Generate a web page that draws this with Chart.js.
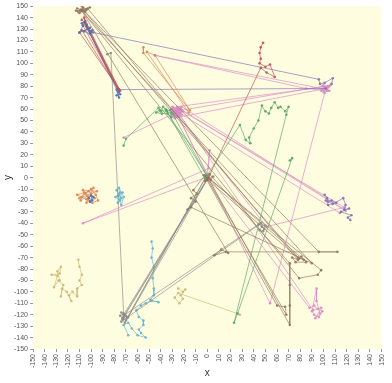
<!DOCTYPE html>
<html>
<head>
<meta charset="utf-8">
<script src="https://cdn.jsdelivr.net/npm/chart.js@4/dist/chart.umd.min.js"></script>
<style>
  html, body { margin: 0; padding: 0; background: #fff; }
  #wrap { width: 392px; height: 383px; }
</style>
</head>
<body>
<div id="wrap"><canvas id="myChart" width="392" height="383"></canvas></div>
<script>
// axis ticks
const xTicks = [-150, 150, 10];
const yTicks = [-150, 150, 10];

// tracks, [x, y] in data units
const blueTrack = [[-108,135],[-105,137],[-107,133],[-110,127],[-103,130],[-100,127],[-99,129],[-101,126],[-106,128],[-101,131],[-104,133],[-78,77],[-76,70],[-77,75],[-75,73],[-78,72]];
const blueSmall = [[-102,-18],[-99,-20],[-100,-16],[-98,-17],[-101,-21]];

const orangeCluster = [[-105,-14],[-100,-10],[-96,-15],[-94,-20],[-99,-22],[-104,-19],[-108,-17],[-112,-15],[-102,-12],[-97,-18],[-101,-21],[-106,-13],[-109,-20],[-103,-16],[-107,-11],[-95,-12],[-110,-18],[-98,-9],[-104,-22],[-100,-14]];
const orangeTop = [[-55,114],[-55,109],[-15,59],[-45,107],[-52,110],[-16,57]];

const greenTrack = [[-72,28],[-70,34],[-42,61],[-40,58],[-38,62],[-35,59],[-32,59],[-31,53],[-34,56],[-39,56],[-44,57],[-41,59],[-35,58],[-30,56],[0,1],[-36,60],[-2,-1],[28,46],[33,33],[37,30],[36,35],[40,43],[44,50],[47,63],[50,58],[53,56],[55,61],[58,66],[61,61],[63,62],[67,58],[70,62],[68,55],[23,-127],[26,-119],[73,17],[71,15]];

const redTop = [[-108,138],[-106,136],[-76,77],[-107,133],[-104,134],[-75,76],[-110,127],[-108,129],[-77,78],[-104,132],[-76,75],[-106,140],[-105,135]];
const redRight = [[48,118],[46,114],[45,109],[46,104],[45,100],[50,97],[54,99],[58,88],[51,92],[46,96],[0,-2],[1,0],[-1,1]];

const purpleTop = [[-100,128],[-103,130],[-98,127],[96,86],[97,82],[101,83],[108,87],[107,82]];
const purpleLine = [[-76,77],[102,78]];
const purpleRight = [[101,-15],[103,-18],[104,-21],[107,-20],[111,-22],[104,-24],[102,-20],[108,-23],[117,-18],[119,-24],[118,-28],[122,-27],[115,-30],[124,-33],[121,-35],[123,-37]];

const brownTrack = [[-112,148],[-106,146],[-108,150],[-104,147],[-110,144],[-107,149],[-109,146],[-113,146],[-103,148],[78,-72],[73,-70],[76,-74],[85,-74],[81,-69],[79,-71],[-107,147],[-101,149],[-105,145],[96,-65],[112,-65],[16,-65],[6,-68],[12,-63],[18,-66],[-108,146],[79,-88],[95,-85],[98,-81],[0,0],[-3,2],[3,-2],[5,1],[-2,-3],[2,3],[71,-75],[71,-94],[71,-112],[71,-129],[0,1],[83,-72],[78,-70],[-1,-1],[60,-112],[67,-113],[68,-120],[-2,2],[-12,-11],[-9,-14],[-14,-18],[-10,-21],[-17,-28],[-14,-26],[90,-75],[-109,147],[-111,145]];

// pink blobs are visited several times
const pinkTrack = [[-72,35],[-27,57],[-24,59],[-29,61],[-26,54],[-23,57],[-30,58],[-28,55],[-25,61],[-22,55],[-31,60],[-26,62],[104,80],[99,80],[105,76],[100,75],[102,78],[104,79],[98,76],[106,81],[-22,59],[-31,56],[-27,60],[-24,55],[-28,52],[-22,62],[118,-28],[114,-31],[-26,58],[-29,54],[-23,61],[-28,58],[-31,53],[-24,53],[102,78],[100,81],[103,76],[85,78],[-45,107],[103,77],[101,79],[105,80],[99,77],[101,74],[54,-110],[-26,56],[-25,59],[-28,57],[-30,62],[-21,58],[118,-26],[51,-43],[-27,58],[-24,56],[-30,60],[-25,53],[0,3],[2,24],[1,8],[-107,-40],[1,1],[88,-114],[92,-112],[95,-115],[99,-117],[96,-122],[92,-120],[90,-117],[94,-97],[94,-108],[97,-119],[93,-123],[98,-114],[91,-116],[-25,57],[-27,55],[-28,59],[-23,60],[119,-29]];

const grayTrack = [[-86,108],[-83,109],[-72,-119],[-75,-121],[-70,-125],[-72,-122],[-74,-118],[-68,-122],[1,0],[-73,-124],[-71,-127],[-1,1],[-69,-123],[-72,-120],[0,-1],[-71,-120],[44,-41],[50,-42],[48,-47],[45,-46],[47,-43],[49,-45],[46,-40],[-74,-126],[-70,-121],[-73,-123]];

const oliveLeft = [[-111,-72],[-110,-78],[-108,-85],[-110,-90],[-108,-94],[-112,-97],[-112,-104],[-116,-100],[-119,-103],[-117,-108],[-121,-100],[-125,-97],[-126,-104],[-124,-94],[-128,-90],[-132,-96],[-129,-86],[-134,-85],[-127,-84],[-126,-78],[-129,-82],[-127,-90]];
const oliveMid = [[-25,-97],[-21,-100],[-19,-98],[-23,-103],[-21,-106],[-24,-110],[-28,-105],[-25,-101],[26,-119],[28,-120]];

const cyanCluster = [[-76,-15],[-78,-11],[-74,-18],[-77,-22],[-73,-13],[-79,-17],[-75,-20],[-76,-9],[-72,-17],[-74,-24],[-77,-16],[-75,-13]];
const cyanTrack = [[-48,-56],[-47,-62],[-48,-70],[-46,-78],[-47,-88],[-46,-97],[-46,-103],[-49,-107],[-42,-109],[-48,-108],[-53,-110],[-57,-112],[-61,-116],[-59,-122],[-55,-125],[-55,-129],[-59,-133],[-57,-136],[-53,-140],[-60,-138],[-65,-132],[-68,-127],[-72,-129],[-68,-138]];

const colors = {
  blue: '76,114,176', orange: '221,132,82', green: '85,168,104', red: '196,78,82',
  purple: '129,114,179', brown: '147,120,96', pink: '218,139,195', gray: '140,140,140',
  olive: '204,185,116', cyan: '100,181,205'
};

function track(points, c) {
  return {
    data: points.map(function (p) { return { x: p[0], y: p[1] }; }),
    showLine: true,
    borderColor: 'rgba(' + colors[c] + ',0.75)',
    backgroundColor: 'rgba(' + colors[c] + ',0.9)',
    borderWidth: 0.9,
    pointRadius: 1.3,
    pointBorderWidth: 0,
  };
}

const datasets = [
  track(blueTrack, 'blue'), track(blueSmall, 'blue'),
  track(orangeCluster, 'orange'), track(orangeTop, 'orange'),
  track(greenTrack, 'green'),
  track(redTop, 'red'), track(redRight, 'red'),
  track(purpleTop, 'purple'), track(purpleLine, 'purple'), track(purpleRight, 'purple'),
  track(brownTrack, 'brown'),
  track(pinkTrack, 'pink'),
  track(grayTrack, 'gray'),
  track(oliveLeft, 'olive'), track(oliveMid, 'olive'),
  track(cyanCluster, 'cyan'), track(cyanTrack, 'cyan'),
];

const bgPlugin = {
  id: 'bg',
  beforeDraw: function (chart) {
    const a = chart.chartArea;
    const ctx = chart.ctx;
    ctx.save();
    ctx.fillStyle = '#fffde0';
    ctx.fillRect(a.left, a.top, a.right - a.left, a.bottom - a.top);
    ctx.restore();
  }
};

const tickFont = { family: 'Liberation Sans', size: 7 };
const titleFont = { family: 'Liberation Sans', size: 10 };

new Chart(document.getElementById('myChart').getContext('2d'), {
  type: 'scatter',
  data: { datasets: datasets },
  plugins: [bgPlugin],
  options: {
    responsive: false,
    animation: false,
    devicePixelRatio: 1,
    layout: { padding: { top: 6, right: 6, left: 0, bottom: 0 } },
    plugins: { legend: { display: false }, tooltip: { enabled: false } },
    scales: {
      x: {
        type: 'linear', min: xTicks[0], max: xTicks[1],
        afterFit: function (s) { s.height = 34; },
        ticks: { stepSize: xTicks[2], autoSkip: false, minRotation: 90, maxRotation: 90, font: tickFont, color: '#555', padding: 2 },
        grid: { drawOnChartArea: false, tickLength: 3, color: '#999' },
        border: { display: false },
        title: { display: true, text: 'x', font: titleFont, color: '#333', padding: { top: 2, bottom: 4 } },
      },
      y: {
        type: 'linear', min: yTicks[0], max: yTicks[1],
        afterFit: function (s) { s.width = 33; },
        ticks: { stepSize: yTicks[2], autoSkip: false, font: tickFont, color: '#555', padding: 2 },
        grid: { drawOnChartArea: false, tickLength: 3, color: '#999' },
        border: { display: false },
        title: { display: true, text: 'y', font: titleFont, color: '#333', padding: { top: 2, bottom: 2 } },
      },
    },
  },
});
</script>
</body>
</html>
